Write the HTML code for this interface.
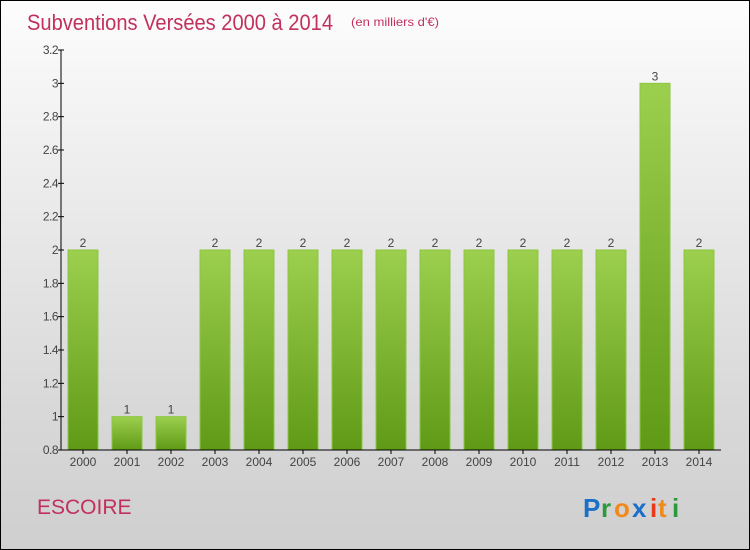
<!DOCTYPE html>
<html><head><meta charset="utf-8"><style>
body{margin:0}
#c{width:748px;height:548px;border:1px solid #000;background:linear-gradient(#fdfdfd,#f0f0f0 25%,#d8d8d8 75%,#cfcfcf);position:relative;font-family:"Liberation Sans",sans-serif;overflow:hidden}
</style></head><body>
<div id="c">
<svg width="748" height="548">
<defs><linearGradient id="g" x1="0" y1="0" x2="0" y2="1"><stop offset="0" stop-color="#9ccf4e"/><stop offset="1" stop-color="#5f9a16"/></linearGradient></defs>
<text x="26" y="29" font-size="22" fill="#c2305e" textLength="306" lengthAdjust="spacingAndGlyphs">Subventions Versées 2000 à 2014</text>
<text x="350" y="25" font-size="12" fill="#c2305e" textLength="88" lengthAdjust="spacingAndGlyphs">(en milliers d'€)</text>
<text x="36" y="513" font-size="21" fill="#c2305e">ESCOIRE</text>
<g font-size="26" font-weight="bold">
<text x="582" y="516" fill="#1a6fc9">P</text><text x="600" y="516" fill="#2a9a3a">r</text><text x="613" y="516" fill="#f08a1a">o</text><text x="631" y="516" fill="#1a6fc9">x</text><text x="649" y="516" fill="#e83a1a">i</text><text x="657" y="516" fill="#f08a1a">t</text><text x="671" y="516" fill="#2a9a3a">i</text>
</g>
<g id="plot"></g>
</svg></div>
<script>
const categories=["2000","2001","2002","2003","2004","2005","2006","2007","2008","2009","2010","2011","2012","2013","2014"];
const values=[2,1,1,2,2,2,2,2,2,2,2,2,2,3,2];
const labels=["2","1","1","2","2","2","2","2","2","2","2","2","2","3","2"];
const ticks=[0.8,1,1.2,1.4,1.6,1.8,2,2.2,2.4,2.6,2.8,3,3.2];
const yMin=0.8,yMax=3.2,plotTop=49,plotBot=449,plotLeft=60,band=44;
const y=v=>plotBot-(v-yMin)/(yMax-yMin)*(plotBot-plotTop);
const x=i=>plotLeft+band*i+band/2;
const NS="http://www.w3.org/2000/svg",p=document.getElementById('plot');
function mk(t,a){const e=document.createElementNS(NS,t);for(const k in a)e.setAttribute(k,a[k]);p.appendChild(e);return e;}
values.forEach((v,i)=>{
 const r=mk('rect',{x:x(i)-15,y:y(v),width:30,height:plotBot-y(v),fill:'url(#g)',stroke:'#8cc63f','stroke-width':1});
 
 
 const t=mk('text',{x:x(i),y:y(v)-3,'text-anchor':'middle','font-size':12,fill:'#444'});t.textContent=labels[i];
 
 
 const c=mk('text',{x:x(i),y:plotBot+16,'text-anchor':'middle','font-size':12,fill:'#444'});c.textContent=categories[i];
 
 
 mk('line',{x1:x(i),x2:x(i),y1:plotBot,y2:plotBot+4,stroke:'#000'});
});
ticks.forEach(v=>{
 mk('line',{x1:plotLeft-3,x2:plotLeft+3,y1:y(v),y2:y(v),stroke:'#000'});
 const t=mk('text',{x:plotLeft-3,y:y(v)+4,'text-anchor':'end','font-size':12,fill:'#444','letter-spacing':'-0.5'});t.textContent=String(v);
 
 
});
const ya=mk('line',{x1:plotLeft,x2:plotLeft,y1:plotTop,y2:plotBot,stroke:'#000'});


const xa=mk('line',{x1:plotLeft,x2:plotLeft+band*15,y1:plotBot,y2:plotBot,stroke:'#000'});


</script>
</body></html>
